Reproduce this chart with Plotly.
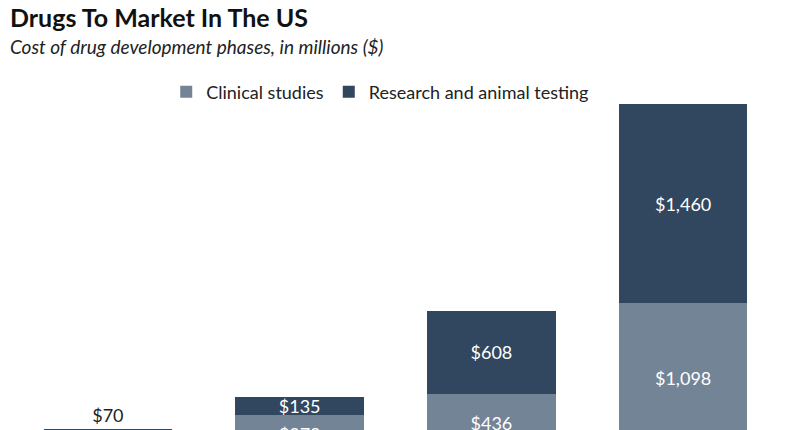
import plotly.graph_objects as go

categories = ["1970s", "1980s", "1990s", "2000s"]
clinical = [109, 278, 436, 1098]
research = [70, 135, 608, 1460]

light = "#748497"
dark = "#31465f"
font_family = "Lato, 'Open Sans', sans-serif"

def fmt(v):
    return "${:,}".format(v)

fig = go.Figure()
fig.add_trace(go.Bar(
    name="Clinical studies", x=categories, y=clinical,
    marker=dict(color=light, line=dict(width=0)),
    text=[fmt(v) for v in clinical], textposition="inside",
    insidetextanchor="middle", constraintext="none",
    insidetextfont=dict(color="white", size=18, family=font_family),
    hoverinfo="skip",
))
fig.add_trace(go.Bar(
    name="Research and animal testing", x=categories, y=research,
    marker=dict(color=dark, line=dict(width=0)),
    text=[fmt(v) for v in research],
    textposition=["outside", "inside", "inside", "inside"],
    insidetextanchor="middle", constraintext="none",
    insidetextfont=dict(color="white", size=18, family=font_family),
    outsidetextfont=dict(color="#222222", size=18, family=font_family),
    hoverinfo="skip",
))

# page body has an 8px margin: figure is sized to fill the rest of the window
fig.update_layout(
    width=782, height=422,
    barmode="stack", bargap=0.33,
    plot_bgcolor="white", paper_bgcolor="white",
    margin=dict(l=4, r=11, t=92, b=0, autoexpand=False),
    font=dict(family=font_family, color="#222222"),
    xaxis=dict(showticklabels=False, showgrid=False, zeroline=False, showline=False, ticks=""),
    yaxis=dict(range=[169, 2590], visible=False, showgrid=False, zeroline=False),
    legend=dict(orientation="h", xref="container", yref="container",
                x=0.476, xanchor="center", y=0.801, yanchor="middle",
                font=dict(size=18, color="#222222", family=font_family),
                traceorder="normal", itemwidth=30),
    showlegend=True,
    annotations=[
        dict(text="<b>Drugs To Market In The US</b>", xref="paper", yref="paper",
             x=-0.005, y=1.2515, xanchor="left", yanchor="middle", showarrow=False,
             font=dict(size=25, color="#111111", family=font_family)),
        dict(text="<i>Cost of drug development phases, in millions ($)</i>", xref="paper", yref="paper",
             x=-0.005, y=1.1636, xanchor="left", yanchor="middle", showarrow=False,
             font=dict(size=19, color="#222222", family=font_family)),
    ],
)

fig.write_html("out.html")
